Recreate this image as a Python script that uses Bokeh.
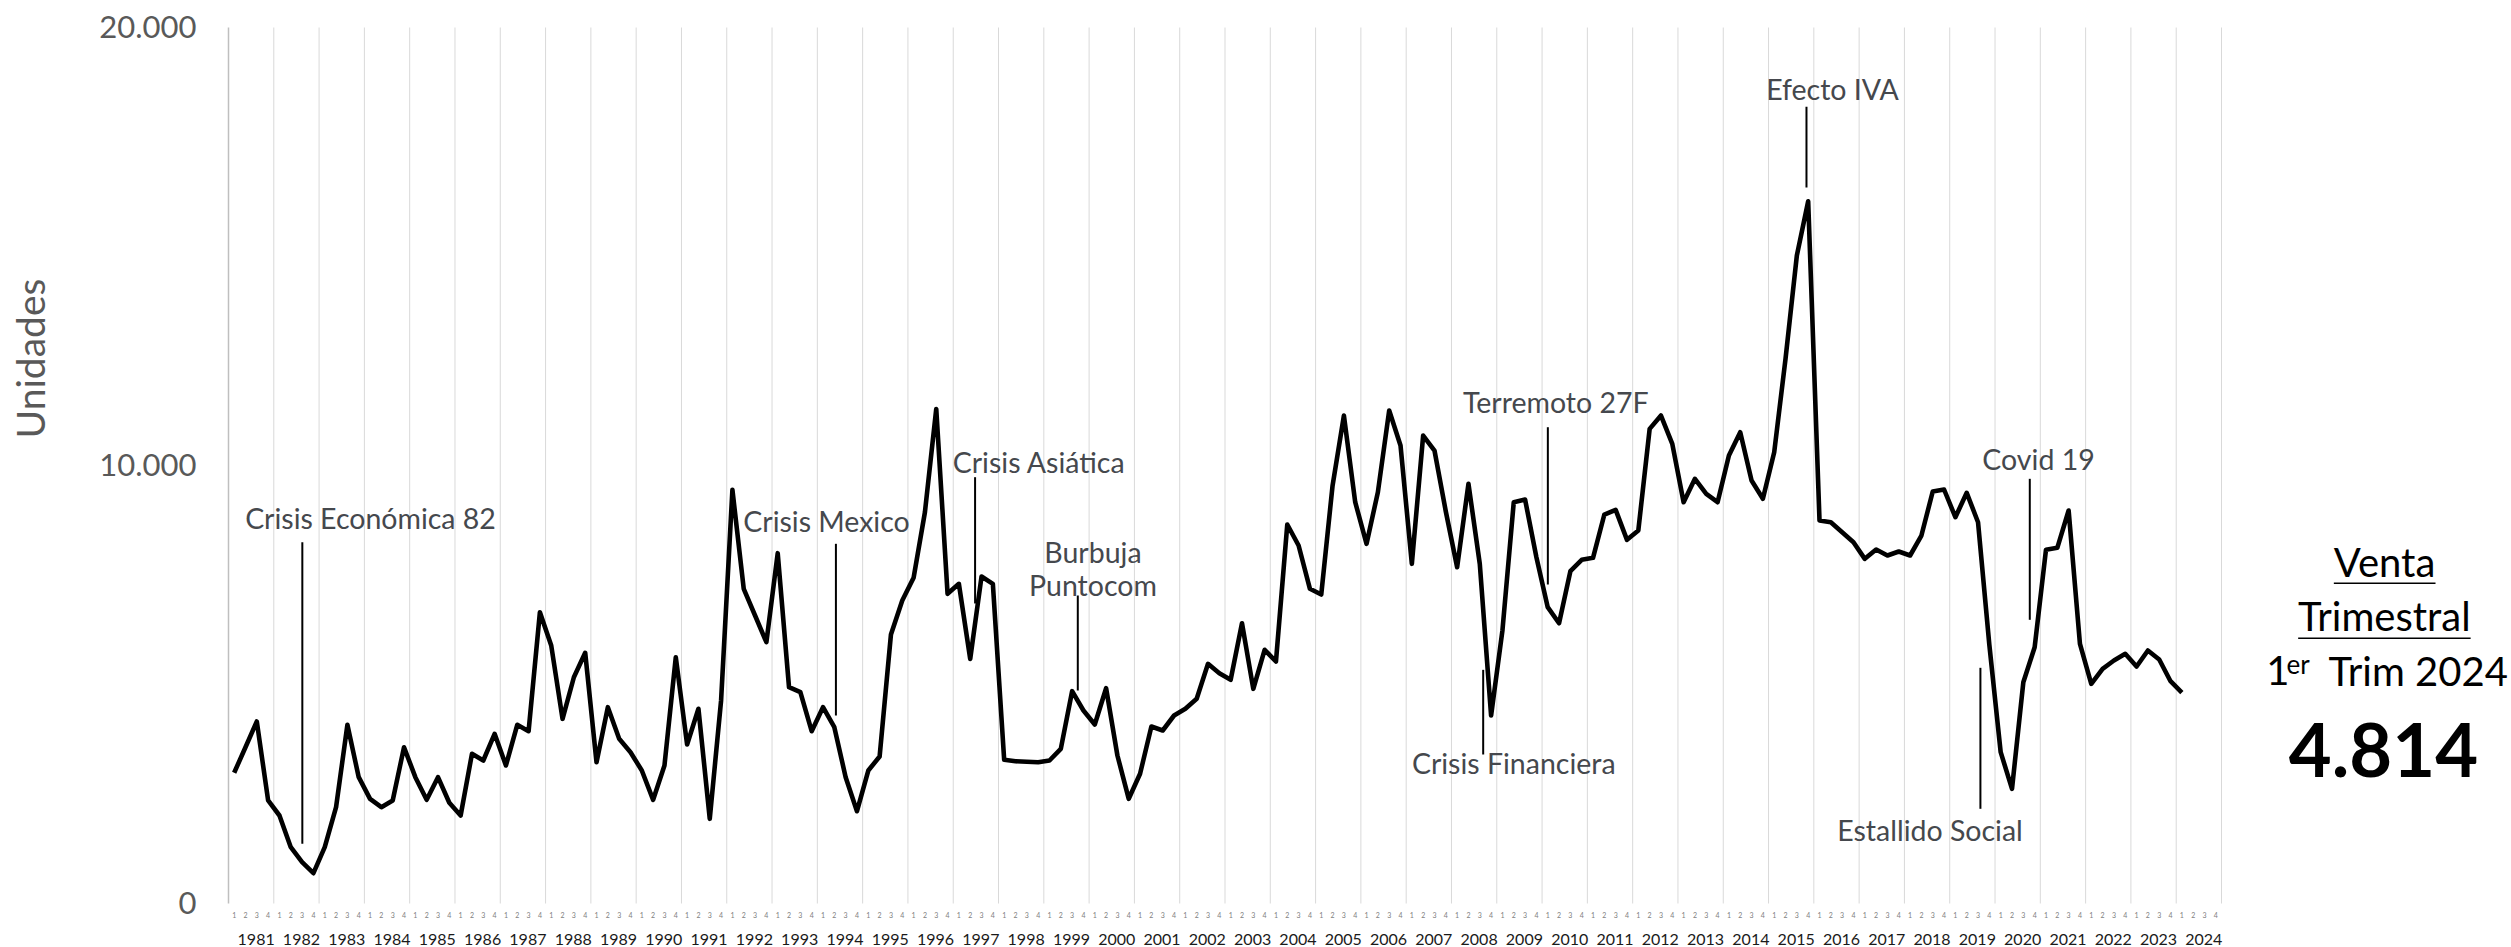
import numpy as np
from bokeh.plotting import figure
from bokeh.models import Range1d
from bokeh.core.properties import value
from bokeh.embed import file_html
from bokeh.resources import INLINE

# ---------------- data ----------------
years = list(range(1981, 2025))
quarter_names = ["1", "2", "3", "4"]
# quarterly sales (units), 1981 Q1 .. 2024 Q1
sales = [
    2984, 3568, 4155, 2352, 2009, 1286, 943, 692, 1286, 2199,
    4079, 2884, 2390, 2199, 2352, 3568, 2884, 2367, 2884, 2299,
    2009, 3417, 3265, 3874, 3151, 4079, 3934, 6650, 5890, 4216,
    5166, 5723, 3226, 4482, 3760, 3455, 3036, 2367, 3151, 5623,
    3630, 4445, 1933, 4635, 9445, 7185, 6575, 5966, 7998, 4938,
    4824, 3934, 4482, 4025, 2884, 2107, 3036, 3356, 6141, 6917,
    7436, 8933, 11290, 7070, 7298, 5585, 7465, 7298, 3280, 3249,
    3235, 3226, 3265, 3531, 4847, 4406, 4087, 4915, 3379, 2390,
    2961, 4041, 3950, 4292, 4445, 4673, 5472, 5258, 5107, 6399,
    4901, 5792, 5525, 8653, 8173, 7185, 7054, 9543, 11141, 9162,
    8212, 9390, 11255, 10456, 7755, 10684, 10342, 8950, 7678, 9581,
    7755, 4292, 6233, 9162, 9223, 7906, 6765, 6399, 7587, 7847,
    7892, 8881, 8988, 8303, 8516, 10836, 11141, 10495, 9162, 9696,
    9353, 9162, 10228, 10760, 9657, 9239, 10304, 12435, 14794, 16034,
    8744, 8705, 8477, 8249, 7869, 8082, 7945, 8036, 7945, 8401,
    9406, 9452, 8820, 9376, 8705, 5900, 3455, 2618, 5052, 5851,
    8075, 8120, 8972, 5928, 5015, 5357, 5548, 5700, 5411, 5776,
    5570, 5075, 4814,
]
y_ticks = [0, 10000, 20000]
y_tick_labels = ["0", "10.000", "20.000"]
y_title = "Unidades"

event_texts = ["Crisis Económica 82", "Crisis Mexico", "Crisis Asiática", "Burbuja", "Puntocom",
               "Terremoto 27F", "Crisis Financiera", "Efecto IVA", "Estallido Social", "Covid 19"]

side_title = ["Venta", "Trimestral"]
side_period = ["1", "er", "Trim 2024"]
side_value = "4.814"

# ---------------- layout (positions, not data) ----------------
W, H = 2511, 947
X0, Y0 = 228.0, 903.0           # px of first year boundary / of value 0
PX_Q = 1993.0 / 176.0           # px per quarter
PX_V = 876.0 / 20000.0          # px per unit
n_q = len(years) * 4

x_range = Range1d(-0.5 - X0 / PX_Q, -0.5 + (W - X0) / PX_Q)
y_range = Range1d(-(H - Y0) / PX_V, Y0 / PX_V)


def lift(fs):
    # compensation for where the renderer puts an alphabetic baseline
    return 0.37 * fs / PX_V


p = figure(width=W, height=H, x_range=x_range, y_range=y_range,
           output_backend="svg", toolbar_location=None,
           x_axis_location=None, y_axis_location=None,
           min_border=0, outline_line_color=None)
p.grid.visible = False
p.background_fill_color = "white"
p.border_fill_color = "white"

FONT = value("Lato")
ANN_COLOR = "#45484d"
AX_COLOR = "#595959"

# year gridlines
bounds = [4 * k - 0.5 for k in range(1, len(years) + 1)]
p.segment(x0=bounds, y0=0, x1=bounds, y1=20000, line_color="#d9d9d9", line_width=1)
p.segment(x0=[-0.5], y0=[0], x1=[-0.5], y1=[20000], line_color="#bfbfbf", line_width=1.5)

# y tick labels and title
p.text(x=[-3.33] * 3, y=[t - 240 + lift(31) for t in y_ticks], text=y_tick_labels,
       text_font=FONT, text_font_size="31px", text_color=AX_COLOR,
       text_align="right", text_baseline="alphabetic")
p.text(x=[-18.07], y=[12443], text=[y_title], angle=np.pi / 2,
       text_font=FONT, text_font_size="39px", text_color=AX_COLOR,
       text_align="center", text_baseline="middle")

# x labels: quarters and years
p.text(x=list(range(n_q)), y=[-331 + lift(7)] * n_q, text=[quarter_names[i % 4] for i in range(n_q)],
       text_font=FONT, text_font_size="7px", text_color="#808080",
       text_align="center", text_baseline="alphabetic")
p.text(x=[4 * k + 1.5 + 0.44 for k in range(len(years))], y=[-959 + lift(16)] * len(years),
       text=[str(y) for y in years],
       text_font=FONT, text_font_size="16px", text_color="#1a1a1a",
       text_align="center", text_baseline="alphabetic")

# main series
p.line(x=list(range(len(sales))), y=sales, line_color="black", line_width=4.6, line_join="round")

# event annotations
ev_x = [12.04, 52.31, 71.09, 75.84, 75.84, 116.71, 113.0, 141.15, 149.76, 159.34]
ev_y = [8562, 8500, 9847, 7792, 7032, 11203, 2961, 18356, 1438, 9902]
p.text(x=ev_x, y=[v + lift(28.5) for v in ev_y], text=event_texts, text_font=FONT,
       text_font_size="28.5px", text_color=ANN_COLOR, text_align="center",
       text_baseline="alphabetic")

ln_x = [6.02, 53.14, 65.43, 74.50, 116.01, 110.3, 138.85, 154.21, 158.57]
ln_y0 = [8249, 8212, 9733, 7032, 10874, 5335, 18189, 5381, 9696]
ln_y1 = [1363, 4292, 6850, 4863, 7283, 3402, 16346, 2162, 6477]
p.segment(x0=ln_x, y0=ln_y0, x1=ln_x, y1=ln_y1, line_color="black", line_width=2)

# side panel
p.text(x=[189.9, 189.88], y=[7450 + lift(40), 6233 + lift(40)], text=side_title, text_font=FONT,
       text_font_size="40px", text_color="black", text_align="center", text_baseline="alphabetic")
p.segment(x0=[185.42, 182.27], y0=[7313, 6057], x1=[194.4, 197.5], y1=[7313, 6057],
          line_color="black", line_width=1.6)
p.text(x=[179.45, 184.95], y=[4977 + lift(40)] * 2, text=[side_period[0], side_period[2]],
       text_font=FONT, text_font_size="40px", text_color="black", text_align="left",
       text_baseline="alphabetic")
p.text(x=[181.24], y=[5244 + lift(26)], text=[side_period[1]], text_font=FONT,
       text_font_size="26px", text_color="black", text_align="left", text_baseline="alphabetic")
p.text(x=[189.8], y=[2884 + lift(74)], text=[side_value], text_font=FONT, text_font_style="bold",
       text_font_size="74px", text_color="black", text_align="center", text_baseline="alphabetic")

open("out.html", "w").write(file_html(p, INLINE))
